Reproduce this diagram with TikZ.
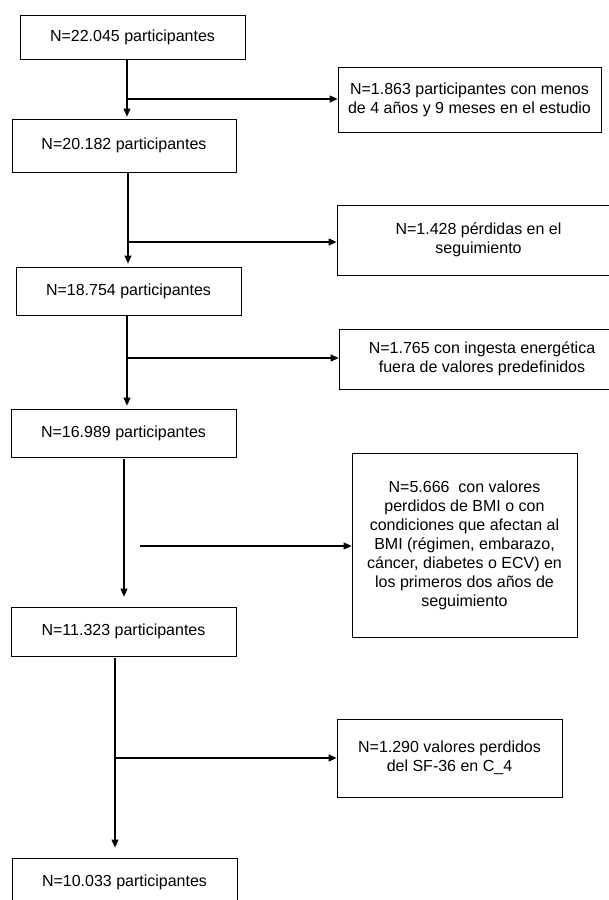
\documentclass[tikz,border=0pt]{standalone}
\usepackage{fontspec}
\setmainfont{Liberation Sans}
\usetikzlibrary{arrows.meta,positioning}

\begin{document}
\begin{tikzpicture}[x=1pt,y=-1pt,>={Triangle[length=8pt,width=7pt]},
  box/.style={draw,line width=0.8pt,inner sep=0pt,align=center,
    font=\fontsize{16}{19}\selectfont},
  arr/.style={->,line width=1.1pt}]
\useasboundingbox[fill=white] (0,0) rectangle (609,900);
% main column
\node[box,minimum width=225pt,minimum height=44pt] (n1) at (132.5,37) {N=22.045 participantes};
\node[box,minimum width=224pt,minimum height=53pt] (n2) at (124,145.5) {N=20.182 participantes};
\node[box,minimum width=225pt,minimum height=48pt] (n3) at (128.5,291) {N=18.754 participantes};
\node[box,minimum width=225pt,minimum height=48pt] (n4) at (123.5,433) {N=16.989 participantes};
\node[box,minimum width=225pt,minimum height=49pt] (n5) at (123.5,631.5) {N=11.323 participantes};
\node[box,minimum width=225pt,minimum height=48pt] (n6) at (124.5,882) {N=10.033 participantes};
% exclusions
\node[box,minimum width=263pt,minimum height=65pt] (x1) at (469.5,99.5)
  {N=1.863 participantes con menos\\de 4 años y 9 meses en el estudio};
\node[box,minimum width=283pt,minimum height=70pt] (x2) at (478.5,240)
  {N=1.428 pérdidas en el\\seguimiento};
\node[box,minimum width=286pt,minimum height=60pt] (x3) at (482,359)
  {N=1.765 con ingesta energética\\fuera de valores predefinidos};
\node[box,minimum width=225pt,minimum height=184pt] (x4) at (464.5,545)
  {N=5.666\ \ con valores\\perdidos de BMI o con\\condiciones que afectan al\\BMI (régimen, embarazo,\\cáncer, diabetes o ECV) en\\los primeros dos años de\\seguimiento};
\node[box,minimum width=225pt,minimum height=78pt] (x5) at (449.5,758)
  {N=1.290 valores perdidos\\del SF-36 en C\_4};
% branch points
\coordinate (c1) at (127,99);
\coordinate (c2) at (128,242);
\coordinate (c3) at (127,358);
\coordinate (c4) at (124,546);
\coordinate (c4s) at (140,546);
\coordinate (c5) at (115,758);
% arrows
\draw[arr,shorten >=2pt] (n1.south -| c1) -- (n2.north -| c1);
\draw[arr] (c1) -- (x1.west |- c1);
\draw[arr,shorten >=3pt] (n2.south -| c2) -- (n3.north -| c2);
\draw[arr] (c2) -- (x2.west |- c2);
\draw[arr,shorten >=3pt] (n3.south -| c3) -- (n4.north -| c3);
\draw[arr] (c3) -- (x3.west |- c3);
\draw[arr,shorten <=2pt,shorten >=10pt] (n4.south -| c4) -- (n5.north -| c4);
\draw[arr] (c4s) -- (x4.west |- c4s);
\draw[arr,shorten <=2pt,shorten >=10pt] (n5.south -| c5) -- (n6.north -| c5);
\draw[arr] (c5) -- (x5.west |- c5);
\end{tikzpicture}
\end{document}
